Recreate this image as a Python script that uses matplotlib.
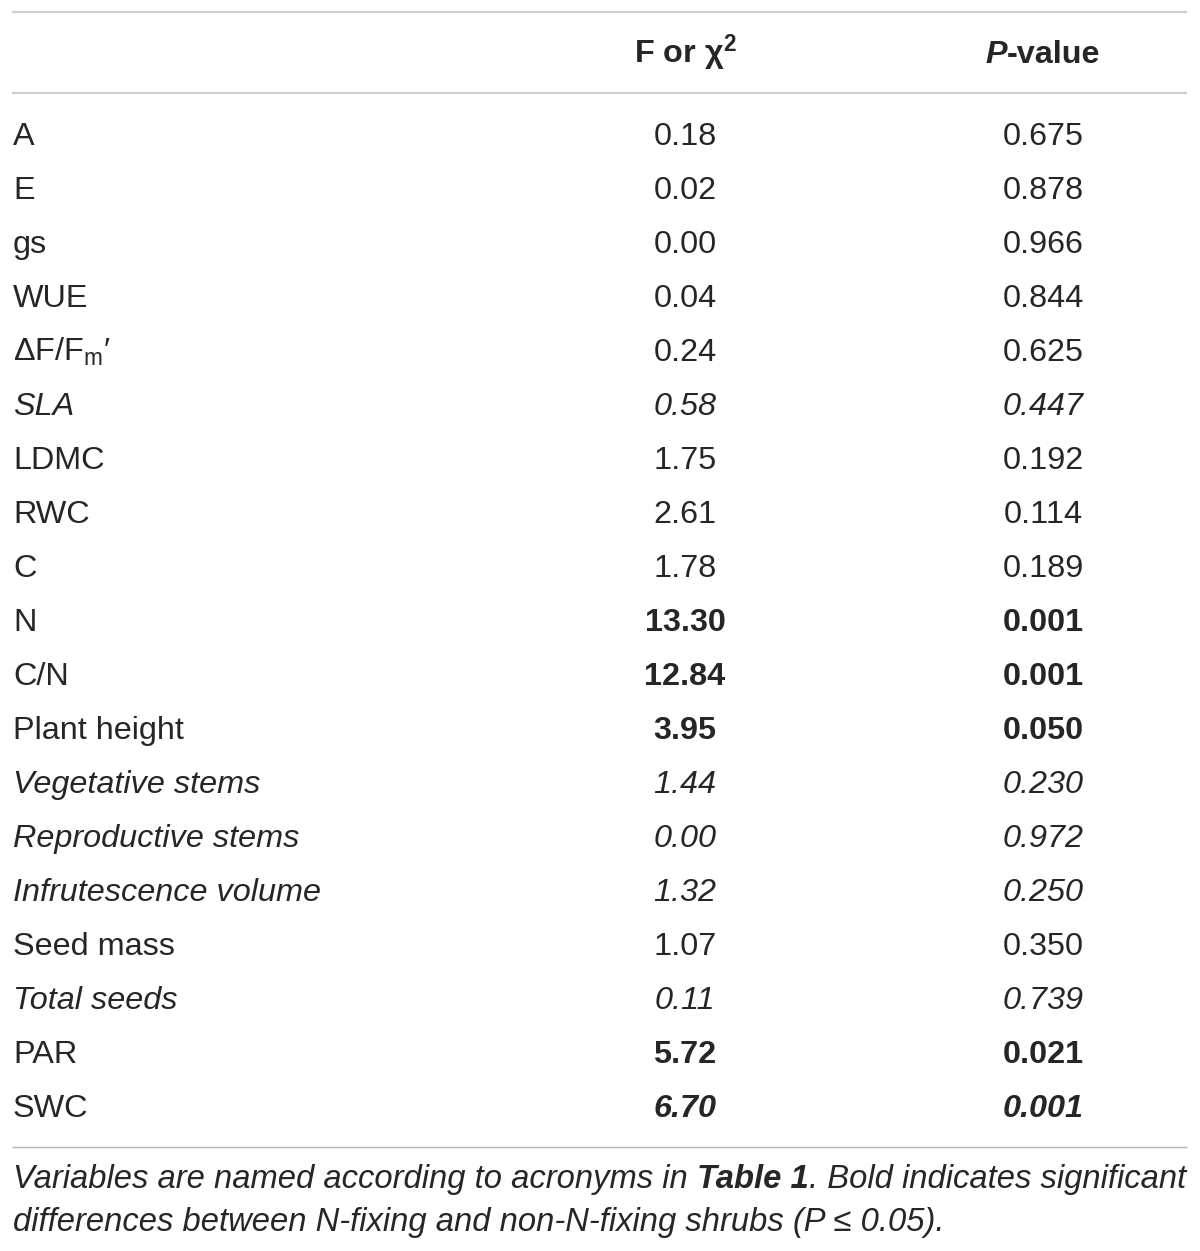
import matplotlib
matplotlib.use("Agg")
import matplotlib.pyplot as plt

plt.rcParams["font.family"] = ["Liberation Sans", "DejaVu Sans"]
plt.rcParams["mathtext.fontset"] = "custom"
plt.rcParams["mathtext.rm"] = "Liberation Sans"
plt.rcParams["mathtext.it"] = "Liberation Sans:italic"
plt.rcParams["mathtext.bf"] = "Liberation Sans:bold"

# ---- data ----
variables = ["A", "E", "gs", "WUE", r"ΔF/F$_{\mathregular{m}}$′", "SLA", "LDMC", "RWC", "C", "N",
             "C/N", "Plant height", "Vegetative stems", "Reproductive stems",
             "Infrutescence volume", "Seed mass", "Total seeds", "PAR", "SWC"]
f_values = [0.18, 0.02, 0.00, 0.04, 0.24, 0.58, 1.75, 2.61, 1.78, 13.30,
            12.84, 3.95, 1.44, 0.00, 1.32, 1.07, 0.11, 5.72, 6.70]
p_values = [0.675, 0.878, 0.966, 0.844, 0.625, 0.447, 0.192, 0.114, 0.189, 0.001,
            0.001, 0.050, 0.230, 0.972, 0.250, 0.350, 0.739, 0.021, 0.001]
italic_rows = ["SLA", "Vegetative stems", "Reproductive stems", "Infrutescence volume", "Total seeds"]
bold_rows = ["N", "C/N", "Plant height", "PAR"]
bold_italic_rows = ["SWC"]
footnote_line1 = [("Variables are named according to acronyms in ", "italic", "normal"),
                  ("Table 1", "italic", "bold"),
                  (". Bold indicates significant", "italic", "normal")]
footnote_line2 = "differences between N-fixing and non-N-fixing shrubs (P ≤ 0.05)."

W, H = 1200, 1251
FS = 23.3
FS_NOTE = 23.6
TXT = "#262626"

fig = plt.figure(figsize=(W / 100, H / 100), dpi=100)
ax = fig.add_axes([0, 0, 1, 1])
ax.set_xlim(0, W)
ax.set_ylim(H, 0)
ax.axis("off")
renderer = fig.canvas.get_renderer()


def draw_runs(x, y, runs, ha="left", fs=FS):
    texts = []
    for s, style, weight in runs:
        t = ax.text(0, y, s, fontsize=fs, style=style, weight=weight, color=TXT,
                    va="baseline", ha="left")
        texts.append(t)
    widths = []
    inv = ax.transData.inverted()
    for t in texts:
        bb = t.get_window_extent(renderer)
        x0 = inv.transform((bb.x0, bb.y0))[0]
        x1 = inv.transform((bb.x1, bb.y0))[0]
        widths.append(x1 - x0)
    total = sum(widths)
    cur = x - total / 2 if ha == "center" else x
    for t, w in zip(texts, widths):
        t.set_x(cur)
        cur += w


LX0, LX1 = 12, 1187
COL_LABEL = 13
COL_F = 685
COL_P = 1043

# rules
ax.plot([LX0, LX1], [12, 12], color="#cfcfcf", lw=1.6, solid_capstyle="butt")
ax.plot([LX0, LX1], [93, 93], color="#cfcfcf", lw=1.6, solid_capstyle="butt")
ax.plot([LX0, LX1], [1147, 1147], color="#b5b5b5", lw=1.0, solid_capstyle="butt")

# header
ax.text(COL_F, 63, r"F or χ$^{\mathbf{2}}$", fontsize=FS, weight="bold", color=TXT,
        ha="center", va="baseline")
draw_runs(COL_P, 63, [("P", "italic", "bold"), ("-value", "normal", "bold")], ha="center")

# body
BASE0, STEP = 145, 54
for i, (var, fv, pv) in enumerate(zip(variables, f_values, p_values)):
    y = BASE0 + i * STEP
    lab_style = "italic" if var in italic_rows else "normal"
    val_style = "italic" if (var in italic_rows or var in bold_italic_rows) else "normal"
    val_weight = "bold" if (var in bold_rows or var in bold_italic_rows) else "normal"
    ax.text(COL_LABEL, y, var, fontsize=FS, style=lab_style, color=TXT, ha="left", va="baseline")
    ax.text(COL_F, y, f"{fv:.2f}", fontsize=FS, style=val_style, weight=val_weight,
            color=TXT, ha="center", va="baseline")
    ax.text(COL_P, y, f"{pv:.3f}", fontsize=FS, style=val_style, weight=val_weight,
            color=TXT, ha="center", va="baseline")

# footnote
draw_runs(COL_LABEL, 1188, footnote_line1, fs=FS_NOTE)
ax.text(COL_LABEL, 1231, footnote_line2, fontsize=FS_NOTE, style="italic", color=TXT,
        ha="left", va="baseline")

fig.savefig("out.png", dpi=100)
